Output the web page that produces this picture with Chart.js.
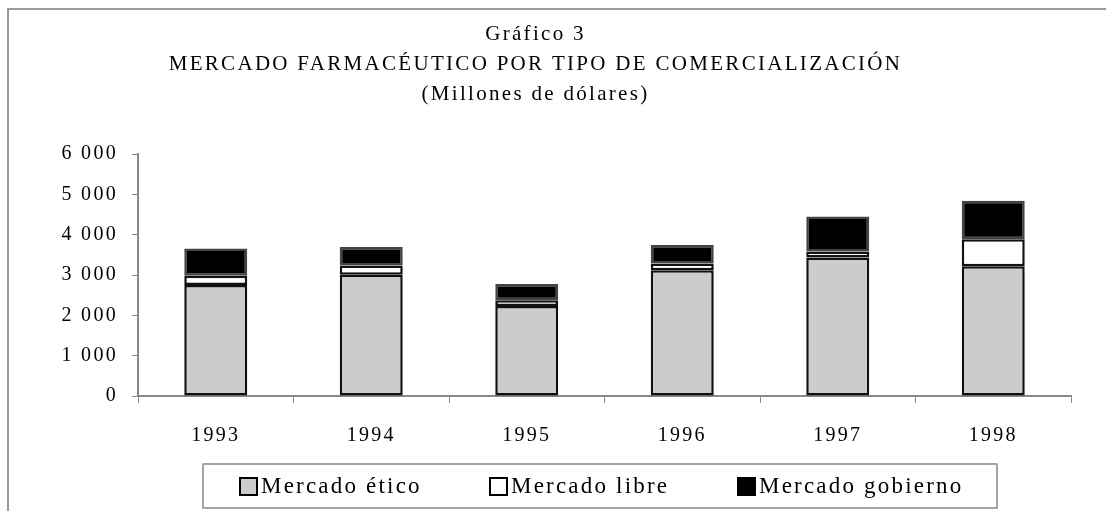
<!DOCTYPE html>
<html>
<head>
<meta charset="utf-8">
<script src="https://cdn.jsdelivr.net/npm/chart.js@4"></script>
<style>
  html, body { margin:0; padding:0; background:#fff; }
  #wrap { position:relative; width:1106px; height:511px; }
</style>
</head>
<body>
<div id="wrap"><canvas id="chartMercado" width="1106" height="511"></canvas></div>
<script>
// ── DATA ──────────────────────────────────────────────
var years = ['1993','1994','1995','1996','1997','1998'];
var seriesNames = ['Mercado ético','Mercado libre','Mercado gobierno'];
var etico    = [2750, 3010, 2235, 3120, 3435, 3220];
var libre    = [ 230,  225,  140,  165,  150,  670];
var gobierno = [ 680,  460,  405,  460,  870,  950];
var yTicks   = [0, 1000, 2000, 3000, 4000, 5000, 6000];

var SERIF = '"Liberation Serif", "Times New Roman", serif';
var SPACING = '2.3px';

function fmtThousands(v){
  return String(v).replace(/\B(?=(\d{3})+(?!\d))/g, ' ');
}

// letter spacing gets reset whenever the canvas resizes, so reapply it
var spacingPlugin = {
  id:'spacing',
  beforeLayout:function(chart){ chart.ctx.letterSpacing = SPACING; },
  beforeDraw:function(chart){ chart.ctx.letterSpacing = SPACING; }
};

// outer frame (left + top rule like the scanned page)
var framePlugin = {
  id:'frame',
  beforeDraw:function(chart){
    var ctx = chart.ctx;
    ctx.save();
    ctx.strokeStyle = '#999';
    ctx.lineWidth = 2;
    ctx.beginPath();
    ctx.moveTo(8, chart.height);
    ctx.lineTo(8, 9);
    ctx.lineTo(chart.width, 9);
    ctx.stroke();
    ctx.restore();
  }
};

// boxed legend under the axis
var boxLegendPlugin = {
  id:'boxLegend',
  afterDraw:function(chart){
    var ctx = chart.ctx;
    var box = { x:203, y:464, w:794, h:44 };
    var itemX = [240, 490, 738];
    ctx.save();
    ctx.strokeStyle = '#888';
    ctx.lineWidth = 1.5;
    ctx.strokeRect(box.x, box.y, box.w, box.h);
    ctx.font = '23px ' + SERIF;
    ctx.letterSpacing = '2.2px';
    ctx.textBaseline = 'middle';
    ctx.textAlign = 'left';
    var cy = box.y + box.h/2;
    chart.data.datasets.forEach(function(ds, i){
      var x = itemX[i];
      ctx.fillStyle = ds.backgroundColor;
      ctx.fillRect(x, cy - 8, 17, 17);
      ctx.strokeStyle = '#000';
      ctx.lineWidth = 2;
      ctx.strokeRect(x, cy - 8, 17, 17);
      ctx.fillStyle = '#000';
      ctx.fillText(ds.label, x + 21, cy + 1);
    });
    ctx.restore();
  }
};

function barSet(label, data, fill, border){
  return {
    label:label, data:data, backgroundColor:fill,
    borderColor:border, borderWidth:2.5, borderSkipped:false,
    barPercentage:0.405, categoryPercentage:1
  };
}

new Chart(document.getElementById('chartMercado'), {
  type:'bar',
  data:{
    labels:years,
    datasets:[
      barSet(seriesNames[0], etico, '#cccccc', '#111'),
      barSet(seriesNames[1], libre, '#ffffff', '#111'),
      barSet(seriesNames[2], gobierno, '#000000', '#444')
    ]
  },
  options:{
    responsive:false, animation:false,
    layout:{ padding:{ top:10, right:35, bottom:60, left:0 } },
    plugins:{
      legend:{ display:false },
      tooltip:{ enabled:false },
      title:{
        display:true,
        text:['Gráfico 3','MERCADO FARMACÉUTICO POR TIPO DE COMERCIALIZACIÓN'],
        color:'#000',
        font:{ family:SERIF, size:21, weight:'normal', lineHeight:1.43 },
        padding:{ top:9, bottom:0 }
      },
      subtitle:{
        display:true,
        text:'(Millones de dólares)',
        color:'#000',
        font:{ family:SERIF, size:21, weight:'normal', lineHeight:1.43 },
        padding:{ top:0, bottom:45 }
      }
    },
    scales:{
      x:{
        stacked:true,
        afterFit:function(s){ s.height = 55; },
        grid:{ drawOnChartArea:false, drawTicks:true, tickLength:7, color:'#888', offset:true },
        border:{ color:'#888', width:2 },
        ticks:{ color:'#000', padding:21, font:{ family:SERIF, size:20 } }
      },
      y:{
        stacked:true, min:0, max:6000,
        afterBuildTicks:function(s){ s.ticks = yTicks.map(function(v){ return { value:v }; }); },
        afterFit:function(s){ s.width = 138; },
        grid:{ drawOnChartArea:false, drawTicks:true, tickLength:6, color:'#888' },
        border:{ color:'#888', width:2 },
        ticks:{ color:'#000', padding:14, font:{ family:SERIF, size:20 },
          callback:function(v){ return fmtThousands(v); } }
      }
    }
  },
  plugins:[spacingPlugin, framePlugin, boxLegendPlugin]
});
</script>
</body>
</html>
